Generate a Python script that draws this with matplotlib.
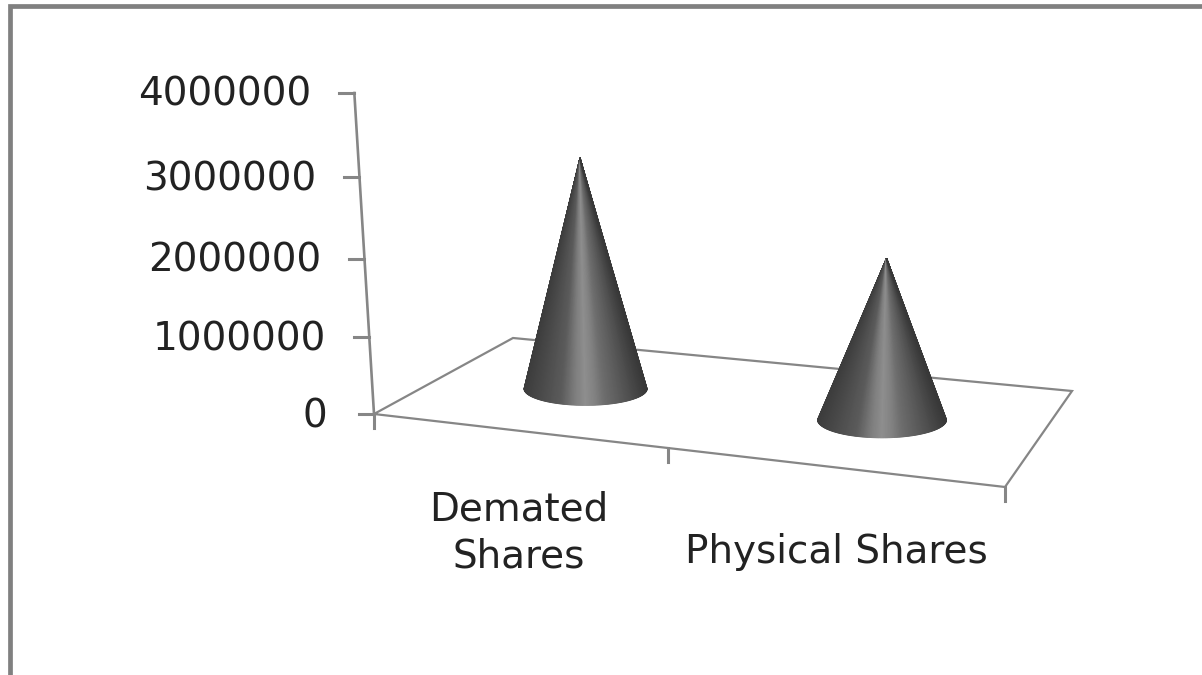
import numpy as np
import matplotlib
matplotlib.use('Agg')
import matplotlib.pyplot as plt

categories = ['Demated\nShares', 'Physical Shares']
shares = [2925000, 2075000]
value_ticks = [0, 1000000, 2000000, 3000000, 4000000]
value_max = 4000000

line_color = '#868686'
text_color = '#222222'

# floor corners in figure pixels: front left, front right, back right, back left
floor_quad = np.array([[374.0, 414.0], [1005.0, 487.0], [1072.0, 391.0], [513.0, 338.0]])
wall_top = np.array([356.0, 93.0])
vanish_x = 722.0
lean = 0.000176
wall_height = wall_top[1] - floor_quad[0, 1]
perspective = 0.065


def floor_homography(quad):
    # maps the unit square onto the floor quad
    src = [(0, 0), (1, 0), (1, 1), (0, 1)]
    rows = []
    rhs = []
    for (u, v), (x, y) in zip(src, quad):
        rows.append([u, v, 1, 0, 0, 0, -u * x, -v * x])
        rows.append([0, 0, 0, u, v, 1, -u * y, -v * y])
        rhs.extend([x, y])
    h = np.linalg.solve(np.array(rows), np.array(rhs))
    return np.append(h, 1).reshape(3, 3)


H = floor_homography(floor_quad)


def on_floor(cat, depth):
    p = H @ np.array([cat / len(categories), depth, 1.0])
    return p[:2] / p[2]


def lift(base, value):
    # raises a floor point by a value, spreading away from the vanishing column
    t = value / value_max
    up = wall_height * t / (1 + perspective * (1 - t))
    x = base[0] + (base[0] - vanish_x) * lean * (-up)
    return np.array([x, base[1] + up])


fig = plt.figure(figsize=(12.02, 6.75), dpi=100, facecolor='white')
ax = fig.add_axes([0, 0, 1, 1])
ax.set_xlim(0, 1202)
ax.set_ylim(675, 0)
ax.axis('off')

# outer chart border, only top and left show
ax.plot([9.5, 9.5, 1202], [675, 6, 6], color='#808080', lw=3.4, solid_joinstyle='miter')

# floor outline
closed = np.vstack([floor_quad, floor_quad[:1]])
ax.plot(closed[:, 0], closed[:, 1], color=line_color, lw=1.6, solid_joinstyle='miter', zorder=1)

# value axis
corner = floor_quad[0]
axis_pts = np.array([lift(corner, v) for v in value_ticks])
ax.plot(axis_pts[:, 0], axis_pts[:, 1], color=line_color, lw=1.9, zorder=1)
for v, p in zip(value_ticks, axis_pts):
    ax.plot([p[0] - 15, p[0]], [p[1], p[1]], color=line_color, lw=2.2, zorder=1)
    gap = 47 if v == 0 else 43
    ax.text(p[0] - gap, p[1] + 2, str(v), ha='right', va='center', fontsize=28,
            color=text_color, family='DejaVu Sans')

# category axis ticks
for i in range(len(categories) + 1):
    p = on_floor(i, 0)
    ax.plot([p[0], p[0]], [p[1], p[1] + 14], color=line_color, lw=2.2, zorder=1)

label_pos = [(519, 533), (836, 552)]
for name, (x, y) in zip(categories, label_pos):
    ax.text(x, y, name, ha='center', va='center', fontsize=28, color=text_color,
            family='DejaVu Sans', linespacing=1.32)

# cones, shaded around the surface so the highlight narrows towards the tip
stops = [0.0, 0.1, 0.3, 0.42, 0.5, 0.58, 0.66, 0.85, 1.0]
greys = [0.24, 0.28, 0.36, 0.50, 0.56, 0.51, 0.43, 0.32, 0.22]

radii = [61.5, 64.5]
squash = [0.27, 0.28]
for i, (value, rx, k) in enumerate(zip(shares, radii, squash)):
    base = on_floor(i + 0.515, 0.49)
    apex = lift(base, value)
    ry = rx * k
    ang = np.linspace(np.pi, 0, 160)
    rim_x = base[0] + rx * np.cos(ang)
    rim_y = base[1] + ry * np.sin(ang)
    X = np.vstack([rim_x, np.full_like(rim_x, apex[0])])
    Y = np.vstack([rim_y, np.full_like(rim_y, apex[1])])
    shade = np.interp((np.cos(ang) + 1) / 2, stops, greys)
    C = np.vstack([shade, shade])
    ax.pcolormesh(X, Y, C, shading='gouraud', cmap='gray', vmin=0, vmax=1, zorder=2)

ax.set_xlim(0, 1202)
ax.set_ylim(675, 0)

fig.savefig('out.png', dpi=100)
